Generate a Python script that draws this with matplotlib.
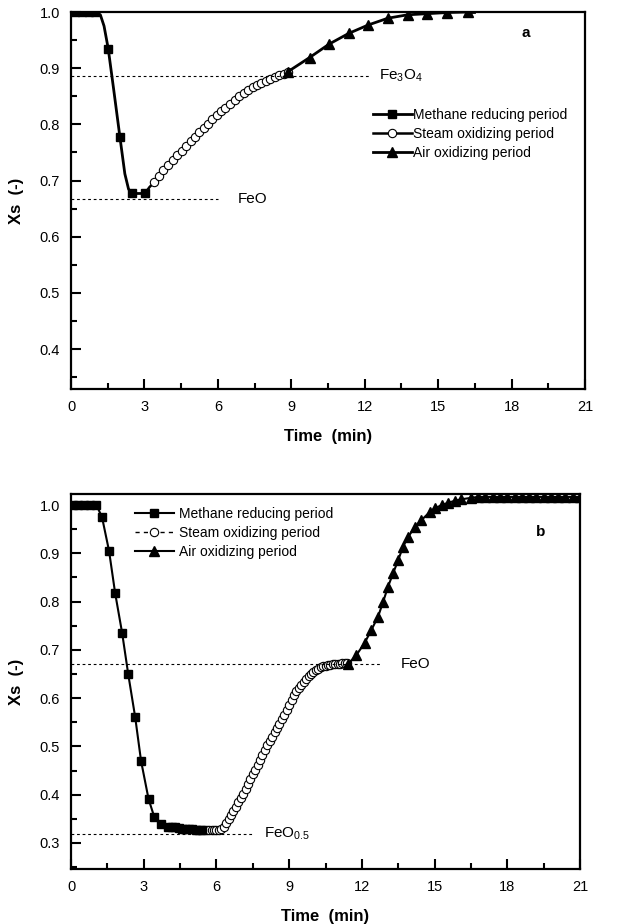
import matplotlib
matplotlib.use("Agg")
import matplotlib.pyplot as plt
from matplotlib.ticker import MultipleLocator, FormatStrFormatter

plt.rcParams['font.family'] = ['Liberation Sans', 'DejaVu Sans']

# ---------------- Panel a data ----------------
a_meth_t = [0.0, 0.15, 0.45, 0.75, 1.0, 1.2, 1.35, 1.52, 1.75, 2.0, 2.2, 2.35, 2.48, 3.02]
a_meth_x = [1.0, 1.0, 1.0, 1.0, 1.0, 0.995, 0.975, 0.935, 0.86, 0.777, 0.712, 0.685, 0.677, 0.677]
a_meth_mark = [1, 2, 3, 4, 7, 9, 12, 13]

a_steam_t = [3.02, 3.20, 3.40, 3.58, 3.75, 3.95, 4.15, 4.33, 4.52, 4.71, 4.90, 5.07, 5.24,
             5.43, 5.61, 5.78, 5.95, 6.13, 6.31, 6.50, 6.69, 6.88, 7.06, 7.25, 7.44, 7.61,
             7.78, 7.97, 8.15, 8.33, 8.50, 8.69, 8.87]
a_steam_x = [0.677, 0.688, 0.697, 0.708, 0.719, 0.728, 0.737, 0.745, 0.752, 0.761, 0.770, 0.778,
             0.786, 0.794, 0.801, 0.809, 0.816, 0.823, 0.830, 0.837, 0.844, 0.850, 0.855, 0.861,
             0.866, 0.870, 0.874, 0.877, 0.880, 0.884, 0.887, 0.890, 0.893]

a_air_t = [8.87, 9.75, 10.55, 11.35, 12.15, 12.95, 13.75, 14.55, 15.35, 16.2, 16.45]
a_air_x = [0.894, 0.919, 0.943, 0.962, 0.977, 0.989, 0.995, 0.997, 0.999, 1.0, 1.0]

# ---------------- Panel b data ----------------
b_meth_t = [0.08, 0.3, 0.55, 0.8, 1.05, 1.28, 1.57, 1.82, 2.11, 2.36, 2.65, 2.89, 3.20, 3.44,
            3.72, 3.99, 4.15, 4.31, 4.45, 4.59, 4.72, 4.86, 5.0, 5.14, 5.28, 5.41]
b_meth_x = [1.0, 1.0, 1.0, 1.0, 1.0, 0.975, 0.905, 0.818, 0.735, 0.650, 0.560, 0.470, 0.391,
            0.353, 0.339, 0.334, 0.333, 0.332, 0.331, 0.329, 0.329, 0.328, 0.328, 0.327, 0.327, 0.327]

b_steam_t = [5.5, 5.6, 5.7, 5.8, 5.9, 6.0, 6.1, 6.2, 6.3, 6.4, 6.5, 6.6, 6.7, 6.8, 6.9, 7.0,
             7.1, 7.2, 7.3, 7.4, 7.5, 7.6, 7.7, 7.8, 7.9, 8.0, 8.1, 8.2, 8.3, 8.4, 8.5, 8.6,
             8.7, 8.8, 8.9, 9.0, 9.1, 9.2, 9.3, 9.4, 9.5, 9.6, 9.7, 9.8, 9.9, 10.0, 10.1, 10.2,
             10.3, 10.4, 10.5, 10.6, 10.7, 10.8, 10.9, 11.0, 11.1, 11.2, 11.3, 11.4]
b_steam_x = [0.327, 0.327, 0.327, 0.327, 0.327, 0.326, 0.326, 0.328, 0.333, 0.341, 0.350, 0.358,
             0.366, 0.375, 0.384, 0.393, 0.402, 0.412, 0.422, 0.432, 0.442, 0.452, 0.462, 0.472,
             0.482, 0.492, 0.502, 0.511, 0.520, 0.529, 0.538, 0.547, 0.556, 0.566, 0.576, 0.586,
             0.597, 0.606, 0.614, 0.621, 0.627, 0.634, 0.640, 0.646, 0.651, 0.655, 0.658, 0.661,
             0.664, 0.666, 0.667, 0.668, 0.669, 0.670, 0.670, 0.671, 0.671, 0.672, 0.672, 0.672]

b_air_t = [11.42, 11.77, 12.11, 12.39, 12.67, 12.88, 13.08, 13.29, 13.5, 13.7, 13.91, 14.19,
           14.46, 14.81, 15.0, 15.29, 15.57, 15.84, 16.1, 16.5, 16.8, 17.1, 17.4, 17.7, 18.0,
           18.3, 18.6, 18.9, 19.2, 19.5, 19.8, 20.1, 20.4, 20.7, 21.0]
b_air_x = [0.670, 0.689, 0.714, 0.741, 0.769, 0.800, 0.831, 0.859, 0.886, 0.914, 0.934, 0.955,
           0.969, 0.986, 0.993, 1.000, 1.005, 1.009, 1.012, 1.015, 1.017, 1.017, 1.017, 1.017,
           1.017, 1.017, 1.017, 1.017, 1.017, 1.017, 1.017, 1.017, 1.017, 1.017, 1.017]

# reference levels
a_ref_levels = [0.886, 0.668]
a_ref_ends = [12.2, 6.0]
b_ref_levels = [0.670, 0.319]
b_ref_ends = [12.8, 7.55]

legend_labels = ['Methane reducing period', 'Steam oxidizing period', 'Air oxidizing period']

fig = plt.figure(figsize=(6.17, 9.24), dpi=100)
W, H = 617.0, 924.0
ax1 = fig.add_axes([71 / W, (H - 389) / H, 514 / W, 377 / H])
ax2 = fig.add_axes([71 / W, (H - 869) / H, 509 / W, 375 / H])

tickfont = dict(family=['Liberation Sans Narrow', 'Liberation Sans', 'DejaVu Sans'], size=10.5)


def style_axes(ax, ylo, yhi):
    ax.set_xlim(0, 21)
    ax.set_ylim(ylo, yhi)
    for s in ax.spines.values():
        s.set_linewidth(1.6)
    ax.xaxis.set_major_locator(MultipleLocator(3))
    ax.xaxis.set_minor_locator(MultipleLocator(1.5))
    ax.yaxis.set_major_locator(MultipleLocator(0.1))
    ax.yaxis.set_minor_locator(MultipleLocator(0.05))
    ax.yaxis.set_major_formatter(FormatStrFormatter('%.1f'))
    ax.tick_params(which='both', direction='in', top=False, right=False, width=1.5)
    ax.tick_params(which='major', length=7, pad=8)
    ax.tick_params(which='minor', length=4.5)
    for lab in ax.get_xticklabels() + ax.get_yticklabels():
        lab.set_fontfamily(tickfont['family'])
        lab.set_fontsize(tickfont['size'])
    ax.set_xlabel('Time  (min)', fontsize=12, fontweight='bold', labelpad=11)
    ax.set_ylabel('Xs  (-)', fontsize=12, fontweight='bold', labelpad=11)


# ---------- Panel a ----------
style_axes(ax1, 0.329, 1.0)
l2, = ax1.plot(a_steam_t, a_steam_x, '-', color='black', lw=1.8, marker='o', ms=6,
               mfc='white', mec='black', mew=0.8, markevery=slice(2, None),
               label=legend_labels[1])
l1, = ax1.plot(a_meth_t, a_meth_x, '-', color='black', lw=2, marker='s', ms=5.5,
               markevery=a_meth_mark, label=legend_labels[0])
l3, = ax1.plot(a_air_t[:-1], a_air_x[:-1], '-', color='black', lw=2, marker='^', ms=7,
               label=legend_labels[2])
ax1.plot(a_air_t[-2:], a_air_x[-2:], '-', color='black', lw=2)
for lvl, end in zip(a_ref_levels, a_ref_ends):
    ax1.plot([0, end], [lvl, lvl], color='black', lw=0.8, ls=(0, (2.5, 2.5)))
ax1.text(12.6, a_ref_levels[0], r'$\mathregular{Fe_3O_4}$', fontsize=11, va='center')
ax1.text(6.8, a_ref_levels[1], 'FeO', fontsize=11, va='center')
ax1.text(18.4, 0.962, 'a', fontsize=11, fontweight='bold', va='center')
ax1.legend(handles=[l1, l2, l3], loc='upper left', bbox_to_anchor=(0.587, 0.745),
           frameon=False, fontsize=10, handlelength=2.8, handletextpad=0.1,
           labelspacing=0.35, borderpad=0, borderaxespad=0)

# ---------- Panel b ----------
style_axes(ax2, 0.246, 1.023)
m2, = ax2.plot(b_steam_t, b_steam_x, '--', color='black', lw=1.0, dashes=(3, 3), marker='o',
               ms=6, mfc='white', mec='black', mew=0.8, label=legend_labels[1])
m1, = ax2.plot(b_meth_t, b_meth_x, '-', color='black', lw=1.5, marker='s', ms=5.5,
               label=legend_labels[0])
m3, = ax2.plot(b_air_t, b_air_x, '-', color='black', lw=1.5, marker='^', ms=7,
               label=legend_labels[2])
for lvl, end in zip(b_ref_levels, b_ref_ends):
    ax2.plot([0, end], [lvl, lvl], color='black', lw=0.8, ls=(0, (2.5, 2.5)))
ax2.text(13.6, b_ref_levels[0], 'FeO', fontsize=11, va='center')
ax2.text(7.95, b_ref_levels[1], r'$\mathregular{FeO_{0.5}}$', fontsize=11, va='center')
ax2.text(19.2, 0.944, 'b', fontsize=11, fontweight='bold', va='center')
ax2.legend(handles=[m1, m2, m3], loc='upper left', bbox_to_anchor=(0.125, 0.965),
           frameon=False, fontsize=10, handlelength=2.8, handletextpad=0.4,
           labelspacing=0.35, borderpad=0, borderaxespad=0)

fig.savefig('out.png', dpi=100)
